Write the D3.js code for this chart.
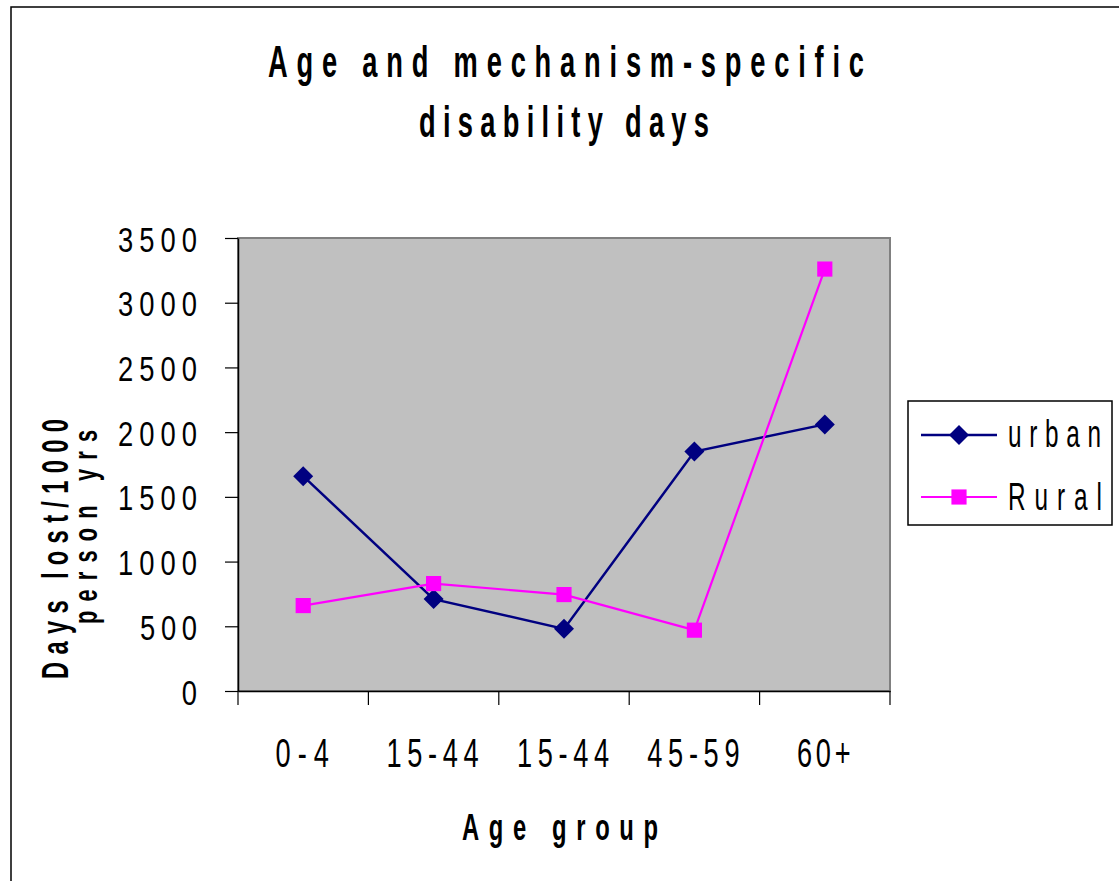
<!DOCTYPE html>
<html>
<head>
<meta charset="utf-8">
<script src="https://cdn.jsdelivr.net/npm/d3@7"></script>
<style>
  html, body { margin: 0; padding: 0; background: #fff; }
  svg { display: block; font-family: "Liberation Sans", Arial, sans-serif; }
</style>
</head>
<body>
<svg id="chart" width="1119" height="881"></svg>
<script>
// ---- data ----
const categories = ["0-4", "15-44", "15-44 ", "45-59", "60+"];
const urban = [1660, 710, 480, 1850, 2060];
const rural = [660, 830, 745, 470, 3260];
const yTicks = [0, 500, 1000, 1500, 2000, 2500, 3000, 3500];
const titleLines = ["Age and mechanism-specific", "disability days"];
const yTitleLines = ["Days lost/1000", "person yrs"];
const xTitle = "Age group";
const seriesNames = ["urban", "Rural"];

// ---- layout ----
const svg = d3.select("#chart");
const plot = { left: 238, right: 890, top: 238, bottom: 691 };

const x = d3.scaleBand().domain(categories).range([plot.left, plot.right]).padding(0);
const y = d3.scaleLinear().domain([0, 3500]).range([plot.bottom, plot.top]);

function stext(parent, str, tx, ty, o) {
  const g = parent.append("g")
    .attr("transform", `translate(${tx},${ty})` + (o.rotate ? ` rotate(${o.rotate})` : "") + ` scale(${o.sx},1)`);
  const t = g.append("text")
    .attr("text-anchor", o.anchor || "middle")
    .style("font-size", o.size + "px")
    .style("font-weight", o.weight || "normal")
    .attr("fill", "#000")
    .text(str);
  if (o.width) t.attr("textLength", o.width / o.sx).attr("lengthAdjust", "spacing");
  return t;
}

// outer border
svg.append("rect").attr("x", 11).attr("y", 7).attr("width", 1130).attr("height", 900)
  .attr("fill", "#fff").attr("stroke", "#000").attr("stroke-width", 1.5);

// title
stext(svg, titleLines[0], 566, 77, { size: 44, weight: "bold", sx: 0.62, width: 596 });
stext(svg, titleLines[1], 564, 137, { size: 44, weight: "bold", sx: 0.62, width: 290 });

// plot area
svg.append("rect")
  .attr("x", plot.left).attr("y", plot.top)
  .attr("width", plot.right - plot.left).attr("height", plot.bottom - plot.top)
  .attr("fill", "#c0c0c0").attr("stroke", "#808080").attr("stroke-width", 2);

// y axis
const yAxis = svg.append("g").attr("transform", `translate(${plot.left},0)`)
  .call(d3.axisLeft(y).tickValues(yTicks).tickSize(13).tickSizeOuter(0).tickFormat(d3.format("d")));
yAxis.select(".domain").attr("stroke", "#000").attr("stroke-width", 1.5);
yAxis.selectAll(".tick line").attr("stroke", "#000").attr("stroke-width", 1.2);
yAxis.selectAll(".tick text").each(function(d) {
  const s = String(d);
  const t = d3.select(this);
  t.attr("x", 0).attr("dy", null).attr("y", 0)
   .attr("text-anchor", "end")
   .attr("transform", "translate(-41,13) scale(0.76,1)")
   .style("font-size", "36px").style("font-family", "'Liberation Sans', Arial, sans-serif")
   .attr("fill", "#000");
  if (s.length > 1) t.attr("textLength", (13 + 22 * (s.length - 1)) / 0.76).attr("lengthAdjust", "spacing");
});

// x axis
const xAxis = svg.append("g").attr("transform", `translate(0,${plot.bottom})`)
  .call(d3.axisBottom(x).tickSize(0).tickSizeOuter(0));
xAxis.select(".domain").attr("stroke", "#000").attr("stroke-width", 1.5);
xAxis.selectAll(".tick text").each(function(d) {
  const s = String(d).trim();
  const t = d3.select(this);
  t.text(s).attr("y", 0).attr("dy", null)
   .attr("text-anchor", "middle")
   .attr("transform", "translate(-1,76) scale(0.68,1)")
   .style("font-size", "40px").style("font-family", "'Liberation Sans', Arial, sans-serif")
   .attr("fill", "#000");
  if (s.length > 1) t.attr("textLength", (15 + 19.3 * (s.length - 1)) / 0.68).attr("lengthAdjust", "spacing");
});
// x ticks at category boundaries
const bounds = categories.map(c => x(c)).concat([x(categories[categories.length - 1]) + x.bandwidth()]);
svg.append("g").selectAll("line").data(bounds).join("line")
  .attr("x1", d => d).attr("x2", d => d)
  .attr("y1", plot.bottom).attr("y2", plot.bottom + 14)
  .attr("stroke", "#000").attr("stroke-width", 1.2);

// axis titles
stext(svg, xTitle, 560, 840, { size: 36, weight: "bold", sx: 0.66, width: 196 });
stext(svg, yTitleLines[0], 68, 549, { size: 37, weight: "bold", sx: 0.64, width: 260, rotate: -90 });
stext(svg, yTitleLines[1], 97, 527, { size: 33, weight: "bold", sx: 0.66, width: 194, rotate: -90 });

// series
const cx = c => x(c) + x.bandwidth() / 2;
const line = d3.line().x((d, i) => cx(categories[i])).y(d => y(d));
const square = d3.symbol().type(d3.symbolSquare).size(230);
const diamondBase = d3.symbol().type(d3.symbolSquare).size(200);

svg.append("path").datum(urban).attr("d", line)
  .attr("fill", "none").attr("stroke", "#000080").attr("stroke-width", 2.5);
svg.append("g").selectAll("path").data(urban).join("path")
  .attr("d", diamondBase)
  .attr("transform", (d, i) => `translate(${cx(categories[i])},${y(d)}) rotate(45)`)
  .attr("fill", "#000080");

svg.append("path").datum(rural).attr("d", line)
  .attr("fill", "none").attr("stroke", "#ff00ff").attr("stroke-width", 2.2);
svg.append("g").selectAll("path").data(rural).join("path")
  .attr("d", square)
  .attr("transform", (d, i) => `translate(${cx(categories[i])},${y(d)})`)
  .attr("fill", "#ff00ff");

// legend
const lg = svg.append("g");
lg.append("rect").attr("x", 908).attr("y", 401).attr("width", 204).attr("height", 124)
  .attr("fill", "#fff").attr("stroke", "#000").attr("stroke-width", 1.5);
const legendItems = [
  { name: seriesNames[0], color: "#000080", sym: "diamond", y: 435, ty: 447, w: 93 },
  { name: seriesNames[1], color: "#ff00ff", sym: "square", y: 497, ty: 510, w: 94 }
];
legendItems.forEach(it => {
  lg.append("line").attr("x1", 921).attr("x2", 997).attr("y1", it.y).attr("y2", it.y)
    .attr("stroke", it.color).attr("stroke-width", it.sym === "diamond" ? 2.5 : 2.2);
  if (it.sym === "diamond") {
    lg.append("path").attr("d", diamondBase)
      .attr("transform", `translate(959,${it.y}) rotate(45)`).attr("fill", it.color);
  } else {
    lg.append("path").attr("d", square).attr("transform", `translate(959,${it.y})`).attr("fill", it.color);
  }
  stext(lg, it.name, 1008, it.ty, { size: 38, sx: 0.64, width: it.w, anchor: "start" });
});
</script>
</body>
</html>
